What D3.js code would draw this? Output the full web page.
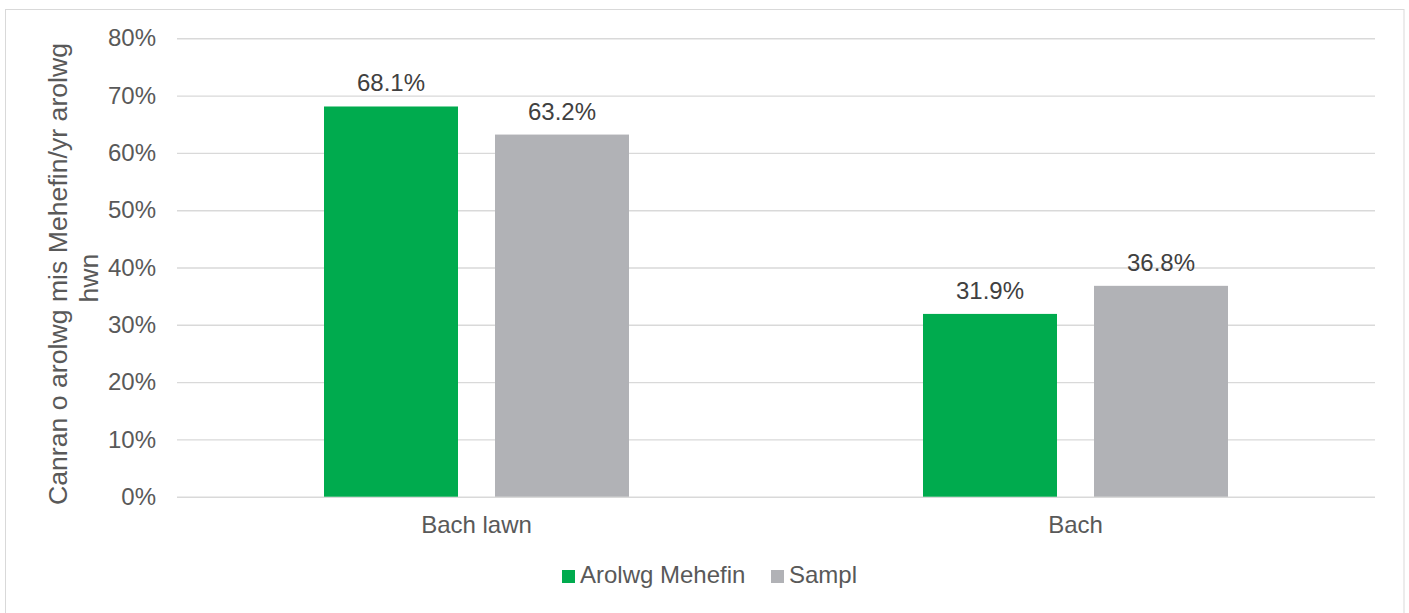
<!DOCTYPE html>
<html>
<head>
<meta charset="utf-8">
<script src="https://cdn.jsdelivr.net/npm/d3@7"></script>
<style>
  html, body { margin: 0; padding: 0; background: #ffffff; }
  svg { display: block; font-family: "Liberation Sans", Arial, sans-serif; }
</style>
</head>
<body>
<svg id="chart" width="1409" height="613"></svg>
<script>
const categories = ["Bach lawn", "Bach"];
const seriesNames = ["Arolwg Mehefin", "Sampl"];
const arolwgMehefin = [0.681, 0.319];
const sampl = [0.632, 0.368];
const yTicks = [0, 0.1, 0.2, 0.3, 0.4, 0.5, 0.6, 0.7, 0.8];
const axisTitleLines = ["Canran o arolwg mis Mehefin/yr arolwg", "hwn"];

const colors = { "Arolwg Mehefin": "#00ab4e", "Sampl": "#b1b2b6" };
const textColor = "#595959";
const gridColor = "#d9d9d9";

const svg = d3.select("#chart");

// outer frame
svg.append("rect")
  .attr("x", 5.5).attr("y", 9.5)
  .attr("width", 1398.5).attr("height", 620)
  .attr("fill", "none").attr("stroke", gridColor).attr("stroke-width", 1);

const plot = { left: 177, right: 1375, top: 38.3, bottom: 496.7 };

const y = d3.scaleLinear().domain([0, 0.8]).range([plot.bottom, plot.top]);
const x0 = d3.scaleBand().domain(categories).range([plot.left, plot.right]).paddingInner(0).paddingOuter(0);
const x1 = d3.scaleBand().domain(seriesNames).range([0, x0.bandwidth()]).paddingInner(0.2164).paddingOuter(0.8597);

// gridlines + y labels
const yAxis = d3.axisLeft(y)
  .tickValues(yTicks)
  .tickFormat(d3.format(".0%"))
  .tickSize(-(plot.right - plot.left))
  .tickPadding(21);

const gy = svg.append("g")
  .attr("transform", `translate(${plot.left},0)`)
  .call(yAxis);
gy.select(".domain").remove();
gy.selectAll(".tick line").attr("stroke", gridColor).attr("stroke-width", 1.4);
gy.selectAll(".tick text")
  .attr("fill", textColor)
  .attr("font-size", "24px")
  .attr("font-family", "Liberation Sans, Arial, sans-serif");

// data table
const data = categories.map((c, i) => ({
  category: c,
  values: [
    { series: seriesNames[0], value: arolwgMehefin[i] },
    { series: seriesNames[1], value: sampl[i] }
  ]
}));

const groups = svg.append("g").selectAll("g")
  .data(data).join("g")
  .attr("transform", d => `translate(${x0(d.category)},0)`);

groups.selectAll("rect")
  .data(d => d.values).join("rect")
  .attr("x", d => x1(d.series))
  .attr("y", d => y(d.value))
  .attr("width", x1.bandwidth())
  .attr("height", d => y(0) - y(d.value))
  .attr("fill", d => colors[d.series]);

groups.selectAll("text.val")
  .data(d => d.values).join("text")
  .attr("class", "val")
  .attr("x", d => x1(d.series) + x1.bandwidth() / 2)
  .attr("y", d => y(d.value) - 15)
  .attr("text-anchor", "middle")
  .attr("fill", "#404040")
  .attr("font-size", "24px")
  .text(d => d3.format(".1%")(d.value));

// x axis labels
const xAxis = d3.axisBottom(x0).tickSize(0).tickPadding(19);
const gx = svg.append("g")
  .attr("transform", `translate(0,${plot.bottom})`)
  .call(xAxis);
gx.select(".domain").remove();
gx.selectAll(".tick text")
  .attr("fill", textColor)
  .attr("font-size", "24px")
  .attr("font-family", "Liberation Sans, Arial, sans-serif");

// y axis title
const title = svg.append("text")
  .attr("transform", "translate(67,274) rotate(-90)")
  .attr("text-anchor", "middle")
  .attr("fill", textColor)
  .attr("font-size", "26.67px");
title.append("tspan").attr("x", 0).attr("y", 0).text(axisTitleLines[0]);
title.append("tspan").attr("x", -4).attr("y", 31).text(axisTitleLines[1]);

// legend
const legendItems = [
  { name: seriesNames[0], sx: 562, tx: 580 },
  { name: seriesNames[1], sx: 771, tx: 789 }
];
const lg = svg.append("g");
lg.selectAll("rect").data(legendItems).join("rect")
  .attr("x", d => d.sx).attr("y", 570)
  .attr("width", 13).attr("height", 13)
  .attr("fill", d => colors[d.name]);
lg.selectAll("text").data(legendItems).join("text")
  .attr("x", d => d.tx).attr("y", 583)
  .attr("fill", textColor)
  .attr("font-size", "24px")
  .text(d => d.name);
</script>
</body>
</html>
